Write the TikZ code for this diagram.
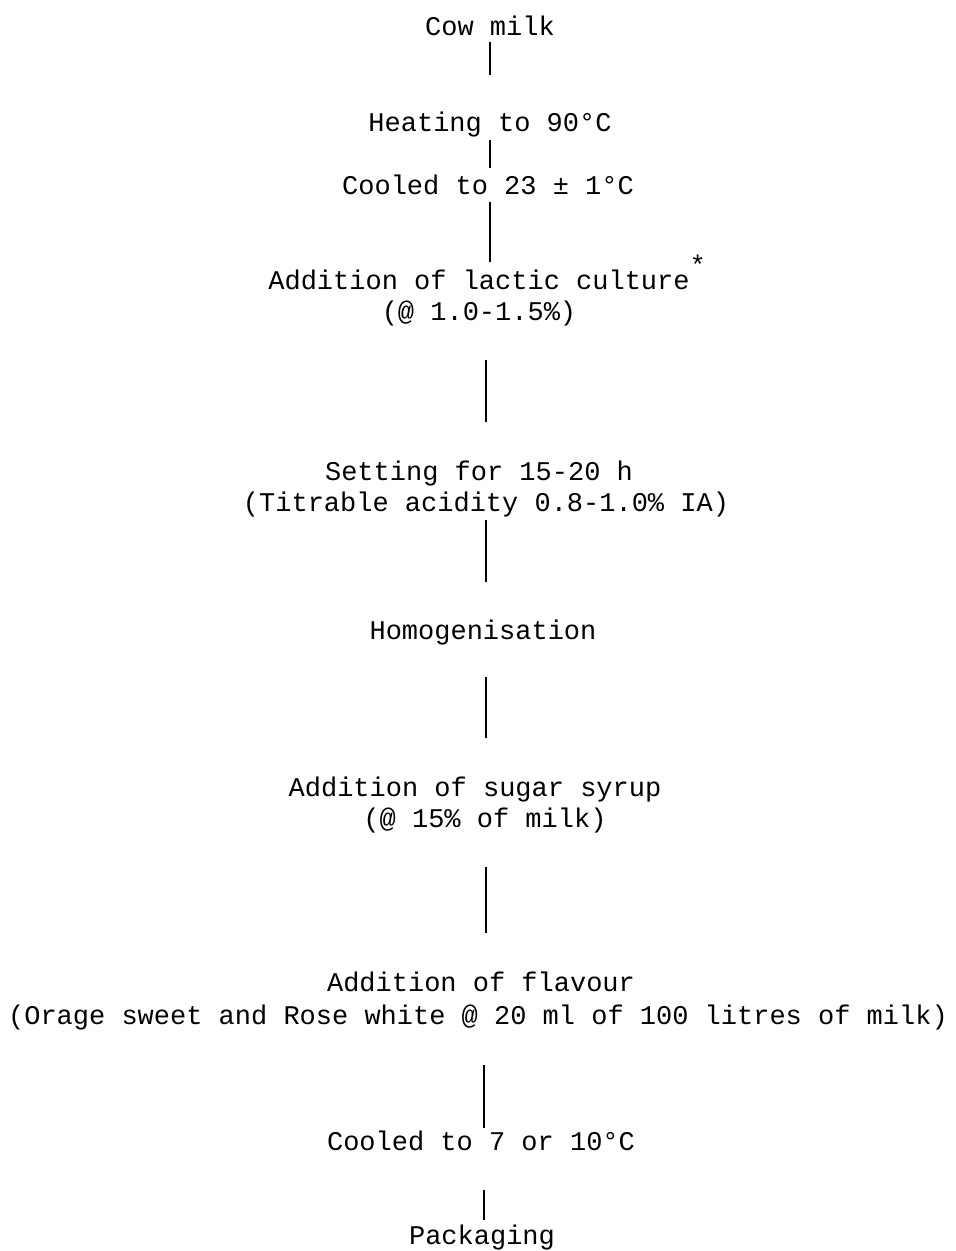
\documentclass[tikz,border=0pt]{standalone}
\usepackage{fontspec}
\setmonofont{Liberation Mono}
\begin{document}
\begin{tikzpicture}[x=1pt,y=-1pt,
  lbl/.style={anchor=base,inner sep=0pt,font=\ttfamily\fontsize{27}{31}\selectfont},
  conn/.style={line width=1.4pt,draw=black}]
\useasboundingbox[fill=white] (0,0) rectangle (956,1251);
% labels
\node[lbl] (cow)   at (490,35)  {Cow milk};
\node[lbl] (heat)  at (490,131) {Heating to 90°C};
\node[lbl] (cool1) at (488,194) {Cooled to 23 ± 1°C};
\node[lbl] (lac)   at (479,289) {Addition of lactic culture\rlap{\raisebox{0.55em}{*}}};
\node[lbl] (lacb)  at (479,320) {(@ 1.0-1.5\%)};
\node[lbl] (set)   at (479,480) {Setting for 15-20 h};
\node[lbl] (setb)  at (486,511) {(Titrable acidity 0.8-1.0\% IA)};
\node[lbl] (hom)   at (483,639) {Homogenisation};
\node[lbl] (sug)   at (475,796) {Addition of sugar syrup};
\node[lbl] (sugb)  at (485,827) {(@ 15\% of milk)};
\node[lbl] (fla)   at (481,991) {Addition of flavour};
\node[lbl] (flab)  at (478,1024) {(Orage sweet and Rose white @ 20 ml of 100 litres of milk)};
\node[lbl] (cool2) at (481,1150) {Cooled to 7 or 10°C};
\node[lbl] (pack)  at (482,1244) {Packaging};
% connector columns
\coordinate (xa) at (490,0);
\coordinate (xb) at (486,0);
\coordinate (xc) at (484,0);
% connectors
\draw[conn] ([yshift=-7pt]cow.base -| xa)   -- ([yshift=-40pt]cow.base -| xa);
\draw[conn] ([yshift=-9pt]heat.base -| xa)  -- ([yshift=26pt]cool1.base -| xa);
\draw[conn] ([yshift=-8pt]cool1.base -| xa) -- ([yshift=27pt]lac.base -| xa);
\draw[conn] ([yshift=-40pt]lacb.base -| xb) -- ([yshift=58pt]set.base -| xb);
\draw[conn] ([yshift=-9pt]setb.base -| xb)  -- ([yshift=57pt]hom.base -| xb);
\draw[conn] ([yshift=-38pt]hom.base -| xb)  -- ([yshift=58pt]sug.base -| xb);
\draw[conn] ([yshift=-40pt]sugb.base -| xb) -- ([yshift=58pt]fla.base -| xb);
\draw[conn] ([yshift=-41pt]flab.base -| xc) -- ([yshift=22pt]cool2.base -| xc);
\draw[conn] ([yshift=-40pt]cool2.base -| xc) -- ([yshift=24pt]pack.base -| xc);
\end{tikzpicture}
\end{document}
